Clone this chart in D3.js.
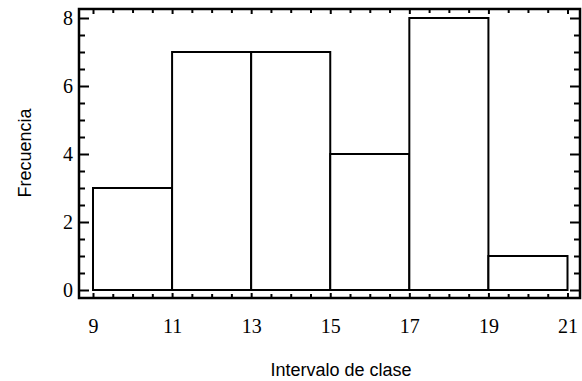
<!DOCTYPE html>
<html>
<head>
<meta charset="utf-8">
<script src="https://cdn.jsdelivr.net/npm/d3@7"></script>
<style>
  html, body { margin: 0; padding: 0; background: #fff; }
  svg { display: block; }
  .tk text { font-family: "Liberation Serif", "Times New Roman", serif; font-size: 20px; fill: #000; }
  .tk line { stroke: #000; stroke-width: 2; }
  .tk path { display: none; }
  .ttl { font-family: "Liberation Sans", Arial, sans-serif; font-size: 18px; fill: #000; }
</style>
</head>
<body>
<svg id="chart" width="582" height="381"></svg>
<script>
// histogram bins (class intervals) and frequencies
var binStart = [9, 11, 13, 15, 17, 19];
var binEnd   = [11, 13, 15, 17, 19, 21];
var freq     = [3, 7, 7, 4, 8, 1];

var xTicks = [9, 11, 13, 15, 17, 19, 21];
var xMinor = [9.5, 10, 10.5, 11.5, 12, 12.5, 13.5, 14, 14.5, 15.5, 16, 16.5, 17.5, 18, 18.5, 19.5, 20, 20.5];
var yTicks = [0, 2, 4, 6, 8];
var yMinor = [0.5, 1, 1.5, 2.5, 3, 3.5, 4.5, 5, 5.5, 6.5, 7, 7.5];

var xTitle = "Intervalo de clase";
var yTitle = "Frecuencia";

var box = { left: 79, top: 9, right: 580, bottom: 298 };

var svg = d3.select("#chart");

var x = d3.scaleLinear().domain([9, 21]).range([93, 567.5]);
var y = d3.scaleLinear().domain([0, 8]).range([290, 18]);

var aData = binStart.map(function (s, i) {
	return { x0: s, x1: binEnd[i], n: freq[i] };
});

// bars
svg.append("g").selectAll("rect").data(aData).enter().append("rect")
	.attr("x", function (d) { return x(d.x0); })
	.attr("y", function (d) { return y(d.n); })
	.attr("width", function (d) { return x(d.x1) - x(d.x0); })
	.attr("height", function (d) { return y(0) - y(d.n); })
	.attr("fill", "#fff")
	.attr("stroke", "#000")
	.attr("stroke-width", 2);

// left axis with labels
svg.append("g").attr("class", "tk")
	.attr("transform", "translate(" + box.left + ",0)")
	.call(d3.axisLeft(y).tickValues(yTicks).tickSize(-10).tickPadding(6).tickFormat(d3.format("d")));
svg.append("g").attr("class", "tk")
	.attr("transform", "translate(" + box.left + ",0)")
	.call(d3.axisLeft(y).tickValues(yMinor).tickSize(-6).tickFormat(""));

// right axis, marks only
svg.append("g").attr("class", "tk")
	.attr("transform", "translate(" + box.right + ",0)")
	.call(d3.axisRight(y).tickValues(yTicks).tickSize(-10).tickFormat(""));
svg.append("g").attr("class", "tk")
	.attr("transform", "translate(" + box.right + ",0)")
	.call(d3.axisRight(y).tickValues(yMinor).tickSize(-6).tickFormat(""));

// bottom axis with labels
svg.append("g").attr("class", "tk")
	.attr("transform", "translate(0," + box.bottom + ")")
	.call(d3.axisBottom(x).tickValues(xTicks).tickSize(-5).tickPadding(21).tickFormat(d3.format("d")));
svg.append("g").attr("class", "tk")
	.attr("transform", "translate(0," + box.bottom + ")")
	.call(d3.axisBottom(x).tickValues(xMinor).tickSize(-4).tickFormat(""));

// top axis, marks only
svg.append("g").attr("class", "tk")
	.attr("transform", "translate(0," + box.top + ")")
	.call(d3.axisTop(x).tickValues(xTicks).tickSize(-5).tickFormat(""));
svg.append("g").attr("class", "tk")
	.attr("transform", "translate(0," + box.top + ")")
	.call(d3.axisTop(x).tickValues(xMinor).tickSize(-4).tickFormat(""));

// frame
svg.append("rect")
	.attr("x", box.left).attr("y", box.top)
	.attr("width", box.right - box.left).attr("height", box.bottom - box.top)
	.attr("fill", "none").attr("stroke", "#000").attr("stroke-width", 2.5);

// titles
svg.append("text").attr("class", "ttl")
	.attr("x", 341).attr("y", 376)
	.attr("text-anchor", "middle")
	.text(xTitle);

svg.append("text").attr("class", "ttl")
	.attr("transform", "translate(31,153) rotate(-90)")
	.attr("text-anchor", "middle")
	.text(yTitle);
</script>
</body>
</html>
